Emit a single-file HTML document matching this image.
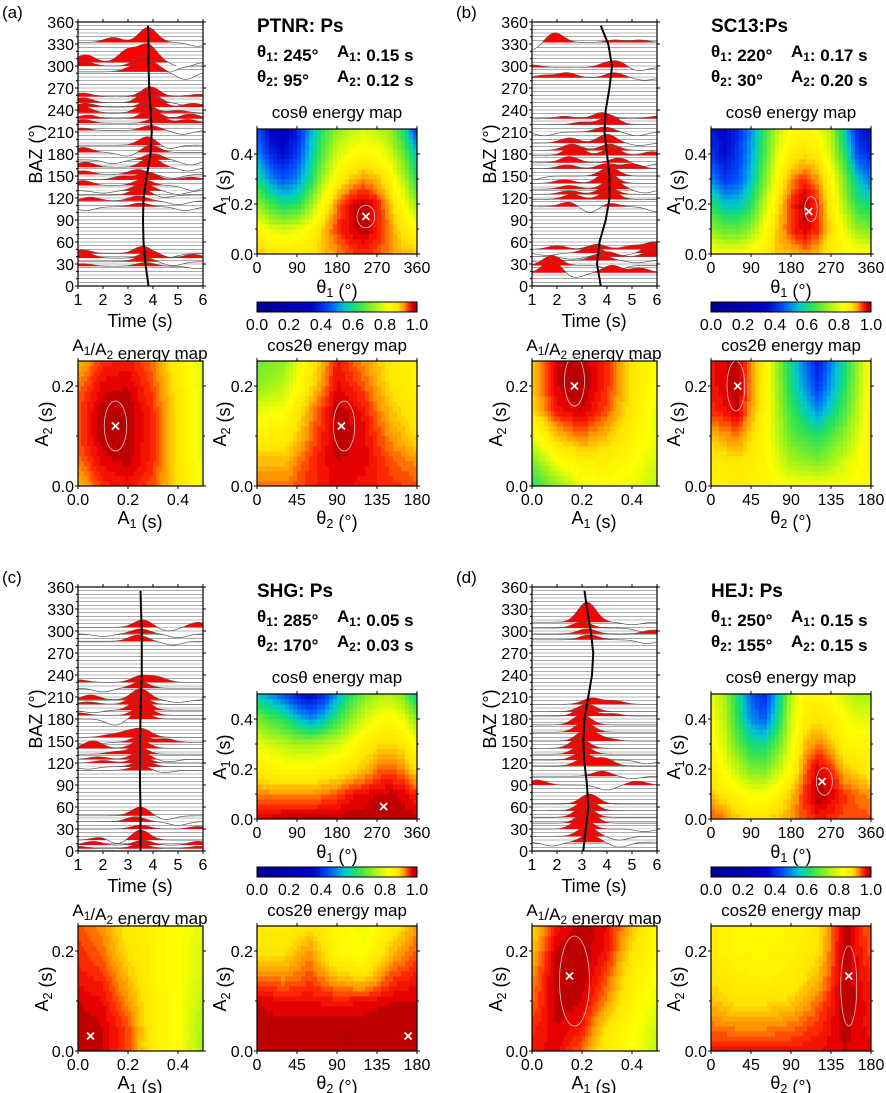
<!DOCTYPE html>
<html><head><meta charset="utf-8"><style>
body{margin:0;background:#fff}
svg{display:block;font-family:"Liberation Sans",sans-serif}
</style></head><body>
<svg id="fig" width="886" height="1093" viewBox="0 0 886 1093" xmlns="http://www.w3.org/2000/svg"></svg>
<script>
// ---- grids ----
const thetaGrid1=[0,30,60,90,120,150,180,210,240,270,300,330,360];
const a1GridCos=[0,0.1,0.2,0.3,0.4,0.5];
const a1Grid=[0,0.1,0.2,0.3,0.4,0.5];
const a2Grid=[0,0.05,0.1,0.15,0.2,0.25];
const theta2Grid=[0,30,60,90,120,150,180];
const colorbarTicks=[0.0,0.2,0.4,0.6,0.8,1.0];
const bazTicks=[0,30,60,90,120,150,180,210,240,270,300,330,360];
const timeTicks=[1,2,3,4,5,6];
const theta1Ticks=[0,90,180,270,360];
const theta2Ticks=[0,45,90,135,180];
const a1Ticks=[0.0,0.2,0.4];
const a2Ticks=[0.0,0.2];
const curveBaz=[0,30,60,90,120,150,180,210,240,270,300,330,355];

// ---- panel (a) ----
const aCos=[[0.9,0.89,0.88,0.88,0.88,0.9,0.92,0.94,0.95,0.94,0.92,0.9,0.9],
[0.84,0.8,0.78,0.8,0.84,0.9,0.95,0.97,0.985,0.96,0.92,0.87,0.84],
[0.72,0.65,0.6,0.62,0.72,0.84,0.93,0.97,0.985,0.96,0.9,0.82,0.72],
[0.6,0.5,0.45,0.5,0.6,0.75,0.85,0.9,0.92,0.9,0.85,0.75,0.62],
[0.5,0.4,0.36,0.42,0.56,0.68,0.78,0.82,0.84,0.83,0.78,0.68,0.55],
[0.45,0.35,0.33,0.38,0.52,0.64,0.72,0.76,0.78,0.76,0.72,0.6,0.4]];
const aA12=[[0.9,0.95,0.96,0.94,0.88,0.8],[0.93,0.97,0.98,0.95,0.88,0.8],[0.94,0.985,0.985,0.95,0.88,0.79],[0.94,0.985,0.985,0.95,0.88,0.79],[0.93,0.97,0.975,0.94,0.87,0.79],[0.9,0.95,0.96,0.93,0.86,0.79]];
const aCos2=[[0.93,0.93,0.95,0.97,0.96,0.95,0.94],[0.9,0.9,0.95,0.975,0.97,0.94,0.92],[0.86,0.86,0.93,0.985,0.97,0.92,0.88],[0.8,0.82,0.92,0.985,0.96,0.9,0.86],[0.72,0.76,0.88,0.97,0.94,0.88,0.85],[0.68,0.72,0.86,0.96,0.92,0.87,0.85]];
const aBest=[245,0.15,0.15,0.12,95,0.12];
const aCurve=[3.82,3.7,3.62,3.6,3.62,3.75,3.9,3.95,3.9,3.85,3.82,3.82,3.8];
const aTraces=[[332,2.4,4,3.8,12,5.8,-3],[305,1.3,6,3.0,10,3.8,14,5.2,-4],[300,1.2,4,3.6,8,4.6,-5],[292,3.2,4,3.9,8,5.3,-6],[258,1.2,3,3.9,8,5.8,2],[250,1.2,4,3.8,10,5.5,-3],[244,1.3,3,4.0,9,5.6,3],[236,1.2,5,3.7,7,5.0,2],[228,1.4,3,3.9,8,5.5,4],[222,1.2,3,4.2,5,5.4,3],[212,1.1,2,3.9,4,5.2,-3],[192,3.8,7,4.6,-3],[182,1.2,4,3.0,-3,3.9,6],[172,2.4,-3,4.0,5,5.5,-4],[162,1.3,4,3.9,8,5.4,-3],[152,1.2,3,3.4,4,4.8,-3],[145,2.8,3,3.8,6,5.5,2],[137,1.2,4,3.6,5,5.6,-4],[130,2.0,-2,3.6,6,5.0,-3],[124,3.5,6,4.4,-2],[116,1.5,3,3.4,4,5.0,-3],[108,1.3,-3,3.5,3,5.3,-3],[44,1.2,3,3.6,6,4.6,-3],[38,1.3,4,3.9,6,5.6,3],[33,3.6,4,4.8,-3],[27,1.2,2,3.7,3,5.8,-2]];
const aContours=[[245,0.15,20,0.045],[0.15,0.12,0.045,0.05],[98,0.12,12,0.05]];

// ---- panel (b) ----
const bCos=[[0.84,0.82,0.82,0.84,0.86,0.9,0.9,0.92,0.9,0.86,0.85,0.84,0.84],
[0.72,0.68,0.68,0.72,0.82,0.9,0.95,0.975,0.95,0.88,0.8,0.72,0.7],
[0.62,0.55,0.55,0.62,0.76,0.88,0.95,0.985,0.95,0.86,0.74,0.62,0.6],
[0.5,0.42,0.45,0.55,0.7,0.84,0.92,0.95,0.92,0.84,0.7,0.55,0.48],
[0.42,0.36,0.42,0.52,0.66,0.8,0.86,0.88,0.86,0.78,0.62,0.44,0.4],
[0.38,0.35,0.4,0.5,0.64,0.76,0.82,0.84,0.82,0.74,0.56,0.38,0.36]];
const bA12=[[0.62,0.72,0.8,0.82,0.8,0.76],[0.7,0.82,0.86,0.86,0.83,0.78],[0.8,0.9,0.93,0.9,0.85,0.8],[0.88,0.96,0.975,0.94,0.87,0.8],[0.9,0.975,0.99,0.95,0.88,0.82],[0.9,0.975,0.985,0.95,0.88,0.82]];
const bCos2=[[0.84,0.86,0.84,0.82,0.82,0.82,0.84],[0.86,0.88,0.84,0.74,0.7,0.78,0.85],[0.9,0.93,0.84,0.68,0.62,0.72,0.86],[0.95,0.975,0.85,0.64,0.5,0.66,0.86],[0.96,0.985,0.86,0.6,0.42,0.62,0.86],[0.96,0.985,0.86,0.58,0.38,0.6,0.86]];
const bBest=[220,0.17,0.17,0.20,30,0.20];
const bCurve=[3.75,3.6,3.7,3.95,4.1,4.1,4.0,3.9,3.95,4.1,4.2,4.05,3.75];
const bTraces=[[332,1.0,-6,1.9,8,4.3,2,5.3,2],[298,1.0,2,4.0,3,4.5,4,5.2,-3],[284,1.5,2,2.4,4,4.3,4,5.5,-2],[228,2.3,2,3.8,5,6.0,2],[220,3.0,2,4.1,7],[210,1.5,-3,3.9,4,5.2,-3],[195,2.5,4,4.0,7,5.3,-2],[185,2.6,5,4.1,5],[178,2.7,8,4.2,6,5.8,3],[168,2.5,5,4.5,4,5.4,-3],[160,2.4,3,4.0,4,5.0,4],[150,1.0,-3,4.1,7],[140,2.3,3,4.0,9],[132,2.5,3,4.2,8,5.5,-3],[125,2.5,3,4.0,6],[118,2.6,4,4.1,7],[108,2.5,4,3.3,-5,4.1,3,6.0,-4],[50,2.0,3,3.6,4,5.0,3,5.9,6],[45,1.6,-2,3.4,5,4.6,-2,5.9,8],[40,2.6,-2,4.0,4,5.9,6],[35,1.5,-2,3.7,5,5.2,-2],[28,1.8,8,4.3,-4],[18,1.8,10,2.7,-4,4.2,6,5.3,4]];
const bContours=[[225,0.18,14,0.05],[0.17,0.21,0.04,0.05],[28,0.2,10,0.05]];

// ---- panel (c) ----
const cCos=[[0.975,0.98,0.985,0.985,0.985,0.985,0.985,0.985,0.98,0.985,0.99,0.985,0.98],
[0.93,0.92,0.92,0.92,0.92,0.93,0.94,0.96,0.97,0.975,0.98,0.97,0.95],
[0.86,0.85,0.84,0.84,0.84,0.85,0.86,0.88,0.9,0.93,0.94,0.92,0.88],
[0.8,0.78,0.76,0.74,0.74,0.76,0.78,0.82,0.86,0.88,0.89,0.87,0.82],
[0.7,0.66,0.62,0.55,0.5,0.55,0.64,0.72,0.78,0.82,0.84,0.8,0.72],
[0.55,0.5,0.45,0.38,0.35,0.4,0.52,0.62,0.7,0.74,0.75,0.7,0.55]];
const cA12=[[0.985,0.975,0.94,0.86,0.82,0.74],[0.985,0.975,0.94,0.86,0.82,0.74],[0.975,0.965,0.92,0.86,0.82,0.76],[0.96,0.95,0.9,0.85,0.82,0.78],[0.95,0.93,0.88,0.85,0.82,0.78],[0.94,0.92,0.87,0.85,0.82,0.8]];
const cCos2=[[0.985,0.985,0.985,0.985,0.985,0.985,0.985],[0.985,0.98,0.98,0.985,0.985,0.985,0.985],[0.975,0.965,0.965,0.96,0.965,0.975,0.975],[0.93,0.92,0.94,0.9,0.88,0.94,0.96],[0.88,0.88,0.92,0.84,0.82,0.9,0.94],[0.86,0.86,0.88,0.84,0.8,0.86,0.92]];
const cBest=[285,0.05,0.05,0.03,170,0.03];
const cCurve=[3.5,3.5,3.5,3.48,3.48,3.48,3.5,3.52,3.55,3.55,3.55,3.52,3.5];
const cTraces=[[305,3.6,6,4.6,-3,5.8,4],[296,2.0,-2,3.5,4,5.0,-3],[286,3.4,5,4.8,-3],[230,1.0,2,3.5,5,4.2,4],[222,2.0,-3,3.5,5],[206,1.5,4,3.5,9,5.0,-2],[200,1.4,2,3.4,8],[192,1.6,-2,3.5,10],[185,1.0,2,3.6,8],[180,2.5,-5,3.5,6],[155,2.3,2,3.0,4,3.6,6],[148,1.5,-2,3.5,5,4.5,3],[140,1.6,6,3.5,6],[132,2.5,2,3.4,6],[125,1.8,2,3.5,6,4.6,-2],[120,2.0,2,3.5,5],[115,1.4,-2,3.6,5],[110,3.5,4,4.4,-2],[48,3.5,7,4.5,-3],[40,3.3,4,5.0,-3],[30,3.5,3,5.8,2],[15,2.0,3,2.5,-4,3.5,8],[8,1.6,3,3.6,4,5.8,3],[3,1.0,2,3.5,4,5.8,2]];
const cContours=[];

// ---- panel (d) ----
const dCos=[[0.94,0.93,0.9,0.88,0.88,0.9,0.92,0.94,0.96,0.95,0.94,0.94,0.94],
[0.9,0.87,0.84,0.82,0.82,0.85,0.9,0.95,0.985,0.975,0.95,0.93,0.92],
[0.86,0.82,0.76,0.7,0.7,0.76,0.84,0.93,0.975,0.95,0.9,0.88,0.86],
[0.84,0.78,0.68,0.6,0.6,0.68,0.8,0.9,0.93,0.9,0.85,0.84,0.84],
[0.82,0.76,0.62,0.5,0.46,0.6,0.78,0.86,0.88,0.86,0.82,0.8,0.8],
[0.8,0.74,0.6,0.45,0.4,0.55,0.76,0.84,0.84,0.82,0.78,0.74,0.74]];
const dA12=[[0.96,0.97,0.93,0.86,0.82,0.76],[0.95,0.975,0.96,0.88,0.83,0.78],[0.93,0.985,0.975,0.92,0.85,0.8],[0.92,0.985,0.985,0.94,0.86,0.82],[0.9,0.98,0.985,0.96,0.88,0.83],[0.88,0.96,0.985,0.965,0.9,0.84]];
const dCos2=[[0.96,0.96,0.96,0.96,0.965,0.975,0.97],[0.93,0.92,0.92,0.93,0.95,0.98,0.96],[0.9,0.88,0.88,0.89,0.93,0.985,0.96],[0.88,0.86,0.85,0.86,0.9,0.985,0.95],[0.86,0.84,0.84,0.85,0.88,0.985,0.94],[0.86,0.84,0.84,0.84,0.87,0.985,0.93]];
const dBest=[250,0.15,0.15,0.15,155,0.15];
const dCurve=[3.05,3.15,3.25,3.2,3.1,3.05,3.1,3.25,3.4,3.45,3.35,3.2,3.1];
const dTraces=[[312,3.2,16,5.0,-2],[304,3.0,5,5.5,-3],[296,3.2,4,5.8,3],[288,3.3,4,5.6,-3],[200,3.4,5,4.3,3],[190,3.2,6],[184,3.1,7,4.2,2],[172,3.0,8],[162,3.1,8],[150,3.2,10,4.0,2],[140,2.9,8],[132,3.0,7],[124,3.0,6,5.6,-3],[116,3.1,6,3.9,6],[102,3.8,4,5.0,-2],[90,1.2,4,4.0,-4,5.2,3],[64,3.3,8],[55,3.2,9],[46,3.1,9],[38,3.2,10],[30,3.0,9,5.5,-2],[20,3.2,8,4.5,-3],[12,1.8,-3,3.3,6,4.5,-4]];
const dContours=[[255,0.15,18,0.055],[0.17,0.14,0.06,0.09],[155,0.13,9,0.08]];

const panelLabels=["(a)","(b)","(c)","(d)"];
const stations=["PTNR: Ps","SC13:Ps","SHG: Ps","HEJ: Ps"];

const NS="http://www.w3.org/2000/svg";
const svg=document.getElementById('fig');
function el(tag,attrs,parent){const e=document.createElementNS(NS,tag);for(const k in attrs)e.setAttribute(k,attrs[k]);(parent||svg).appendChild(e);return e;}
function txt(s,x,y,size,anchor,parent,weight){const t=el('text',{x:x,y:y,'font-size':size,'text-anchor':anchor||'start','font-weight':weight||'normal',fill:'#000'},parent);t.textContent=s;return t;}

const cstops=[[0,[0,0,144]],[0.35,[0,0,200]],[0.45,[0,80,255]],[0.55,[0,200,208]],[0.62,[32,224,96]],[0.72,[144,240,32]],[0.82,[255,255,0]],[0.88,[255,230,0]],[0.92,[255,150,0]],[0.95,[255,40,0]],[0.97,[230,0,0]],[0.98,[190,0,0]],[1,[176,0,0]]];
function cmap(v){v=Math.max(0,Math.min(1,v));for(let i=1;i<cstops.length;i++){if(v<=cstops[i][0]){const a=cstops[i-1],b=cstops[i];const f=(v-a[0])/(b[0]-a[0]);const c=a[1].map((x,j)=>Math.round(x+(b[1][j]-x)*f));return `rgb(${c[0]},${c[1]},${c[2]})`;}}return 'rgb(176,0,0)';}
function interp(grid,v){let i=0;while(i<grid.length-2&&v>grid[i+1])i++;return [i,(v-grid[i])/(grid[i+1]-grid[i])];}

function drawMap(g,name,x0,y0,w,h,xg,yg,vals,xmax,ymax,best,cont){
  const mg=el('g',{},g);
  
  
  const nx=40,ny=25,cw=w/nx,ch=h/ny;
  for(let i=0;i<nx;i++)for(let j=0;j<ny;j++){
    const xv=(i+0.5)/nx*xmax,yv=(j+0.5)/ny*ymax;
    const [ix,fx]=interp(xg,xv),[iy,fy]=interp(yg,yv);
    const v=(1-fx)*(1-fy)*vals[iy][ix]+fx*(1-fy)*vals[iy][ix+1]+(1-fx)*fy*vals[iy+1][ix]+fx*fy*vals[iy+1][ix+1];
    const q=Math.round(v*100)/100;
    el('rect',{x:(x0+i*cw).toFixed(2),y:(y0+h-(j+1)*ch).toFixed(2),width:(cw+0.4).toFixed(2),height:(ch+0.4).toFixed(2),fill:cmap(q)},mg);
  }
  if(cont){const c=el('ellipse',{cx:x0+cont[0]/xmax*w,cy:y0+h-cont[1]/ymax*h,rx:cont[2]/xmax*w,ry:cont[3]/ymax*h,fill:'none',stroke:'#ccc','stroke-width':0.8},mg);}
  const bx=x0+best[0]/xmax*w,by=y0+h-best[1]/ymax*h;
  const m=el('path',{d:`M${bx-3.5},${by-3.5}L${bx+3.5},${by+3.5}M${bx-3.5},${by+3.5}L${bx+3.5},${by-3.5}`,stroke:'#fff','stroke-width':1.8},mg);
  
  
  el('rect',{x:x0,y:y0,width:w,height:h,fill:'none',stroke:'#000','stroke-width':1.2},g);
}
const TF=16;
function ticks(g,x0,y0,w,h,xt,xmax,xmin,yt,ymax,ymin,xfmt,yfmt,minorY){
  xt.forEach(v=>{const x=x0+(v-xmin)/(xmax-xmin)*w;el('line',{x1:x,x2:x,y1:y0+h,y2:y0+h+3,stroke:'#000'},g);el('line',{x1:x,x2:x,y1:y0,y2:y0-3,stroke:'#000'},g);txt(xfmt(v),x,y0+h+19,TF,'middle',g);});
  yt.forEach(v=>{const y=y0+h-(v-ymin)/(ymax-ymin)*h;el('line',{x1:x0-3,x2:x0,y1:y,y2:y,stroke:'#000'},g);el('line',{x1:x0+w,x2:x0+w+3,y1:y,y2:y,stroke:'#000'},g);txt(yfmt(v),x0-4,y+6,TF,'end',g);});
  (minorY||[]).forEach(v=>{const y=y0+h-(v-ymin)/(ymax-ymin)*h;el('line',{x1:x0-2,x2:x0,y1:y,y2:y,stroke:'#000'},g);el('line',{x1:x0+w,x2:x0+w+2,y1:y,y2:y,stroke:'#000'},g);});
}
function sub(g,x,y,base,subs,size,anchor,weight){const t=el('text',{x:x,y:y,'font-size':size,'text-anchor':anchor||'start','font-weight':weight||'normal'},g);base.forEach((p,i)=>{const s1=el('tspan',{},t);s1.textContent=p;if(subs[i]){const s2=el('tspan',{'font-size':size*0.7,dy:4},t);s2.textContent=subs[i];const s3=el('tspan',{dy:-4},t);s3.textContent='';}});return t;}
function rotLabel(g,x,y,base,subs){const t=sub(g,0,0,base,subs,18,'middle');t.setAttribute('transform',`translate(${x},${y}) rotate(-90)`);return t;}

const panels=[
 [0,0,aCos,aA12,aCos2,aBest,aCurve,aTraces,aContours,['245°','0.15 s','95°','0.12 s']],
 [454,0,bCos,bA12,bCos2,bBest,bCurve,bTraces,bContours,['220°','0.17 s','30°','0.20 s']],
 [0,565,cCos,cA12,cCos2,cBest,cCurve,cTraces,cContours,['285°','0.05 s','170°','0.03 s']],
 [454,565,dCos,dA12,dCos2,dBest,dCurve,dTraces,dContours,['250°','0.15 s','155°','0.15 s']]];
const f1=v=>v.toFixed(1), f0=v=>String(v);

panels.forEach((P,pi)=>{
  const [ox,oy,cosV,a12V,cos2V,best,curve,traces,conts,hdr]=P;
  const g=el('g',{transform:`translate(${ox},${oy})`});
  
  
  txt(panelLabels[pi],2,18,17,'start',g);
  const TX=78,TY=22,TW=125,TH=264;
  const tg=el('g',{},g);
  
  
  const cid='clip'+pi;
  const cp=el('clipPath',{id:cid},tg);el('rect',{x:TX,y:TY,width:TW,height:TH},cp);
  const inner=el('g',{'clip-path':`url(#${cid})`},tg);
  const tx=t=>TX+(t-1)/5*TW, by=b=>TY+TH-b/360*TH;
  for(let b=0;b<=360;b+=5)el('line',{x1:TX,x2:TX+TW,y1:by(b),y2:by(b),stroke:'#777','stroke-width':0.6},inner);
  traces.slice().sort((a,b)=>b[0]-a[0]).forEach(tr=>{
    const baz=tr[0];const pts=[];
    for(let t=1;t<=6.001;t+=0.025){let s=0;for(let k=1;k<tr.length;k+=2){const d=(t-tr[k])/0.36;s+=1.7*tr[k+1]*Math.exp(-d*d/2);}pts.push([t,s]);}
    let fill=`M${tx(1)},${by(baz)}`;pts.forEach(p=>{fill+=`L${tx(p[0]).toFixed(2)},${by(baz+Math.max(0,p[1])).toFixed(2)}`;});fill+=`L${tx(6)},${by(baz)}Z`;
    const wf=`M${tx(1)},${by(baz)}`+pts.map(p=>`L${tx(p[0]).toFixed(2)},${by(baz+Math.min(0,p[1])).toFixed(2)}`).join('')+`L${tx(6)},${by(baz)}Z`;
    el('path',{d:wf,fill:'#fff'},inner);
    const fp=el('path',{d:fill,fill:'#f00'},inner);
    
    
    el('path',{d:'M'+pts.map(p=>`${tx(p[0]).toFixed(2)},${by(baz+p[1]).toFixed(2)}`).join('L'),fill:'none',stroke:'#555','stroke-width':0.7},inner);
  });
  const cl=el('path',{d:'M'+curveBaz.map((b,i)=>`${tx(curve[i]).toFixed(2)},${by(b).toFixed(2)}`).join('L'),fill:'none',stroke:'#000','stroke-width':2},tg);
  
  
  el('rect',{x:TX,y:TY,width:TW,height:TH,fill:'none',stroke:'#000','stroke-width':1.2},tg);
  ticks(g,TX,TY,TW,TH,timeTicks,6,1,bazTicks,360,0,f0,f0);
  for(let b=10;b<360;b+=10){if(b%30)el('line',{x1:TX-2,x2:TX,y1:by(b),y2:by(b),stroke:'#000'},g);}
  txt('Time (s)',140,327,18,'middle',g);
  const bz=txt('BAZ (°)',0,0,18,'middle',g);bz.setAttribute('transform','translate(42,154) rotate(-90)');
  txt(stations[pi],257,32,19,'start',g,'bold');
  sub(g,257,57,['θ',': '+hdr[0]],['1',''],17,'start','bold');
  sub(g,337,57,['A',': '+hdr[1]],['1',''],17,'start','bold');
  sub(g,257,82,['θ',': '+hdr[2]],['2',''],17,'start','bold');
  sub(g,337,82,['A',': '+hdr[3]],['2',''],17,'start','bold');
  txt('cosθ energy map',337,118,17,'middle',g);
  drawMap(g,'cos-theta-energy-map',257,129,160,125,thetaGrid1,a1GridCos,cosV,360,0.5,[best[0],best[1]],conts[0]);
  ticks(g,257,129,160,125,theta1Ticks,360,0,[0,0.2,0.4],0.5,0,f0,f1,[0.1,0.3]);
  sub(g,337,293,['θ',' (°)'],['1',''],18,'middle');
  rotLabel(g,226,192,['A',' (s)'],['1','']);
  const cb=el('g',{},g);
  
  
  for(let i=0;i<160;i++)el('rect',{x:257+i,y:302,width:1.2,height:10,fill:cmap((i+0.5)/160)},cb);
  el('rect',{x:257,y:302,width:160,height:10,fill:'none',stroke:'#000'},cb);
  colorbarTicks.forEach(v=>txt(v.toFixed(1),257+v*160,330,TF,'middle',cb));
  sub(g,140,351,['A','/A',' energy map'],['1','2',''],17,'middle');
  drawMap(g,'a1-a2-energy-map',78,361,125,125,a1Grid,a2Grid,a12V,0.5,0.25,[best[2],best[3]],conts[1]);
  ticks(g,78,361,125,125,a1Ticks,0.5,0,a2Ticks,0.25,0,f1,f1,[0.1]);
  sub(g,140,524,['A',' (s)'],['1',''],18,'middle');
  rotLabel(g,48,424,['A',' (s)'],['2','']);
  txt('cos2θ energy map',337,351,17,'middle',g);
  drawMap(g,'cos2-theta-energy-map',257,361,160,125,theta2Grid,a2Grid,cos2V,180,0.25,[best[4],best[5]],conts[2]);
  ticks(g,257,361,160,125,theta2Ticks,180,0,a2Ticks,0.25,0,f0,f1,[0.1]);
  sub(g,337,524,['θ',' (°)'],['2',''],18,'middle');
  rotLabel(g,226,424,['A',' (s)'],['2','']);
});
</script>
</body></html>
